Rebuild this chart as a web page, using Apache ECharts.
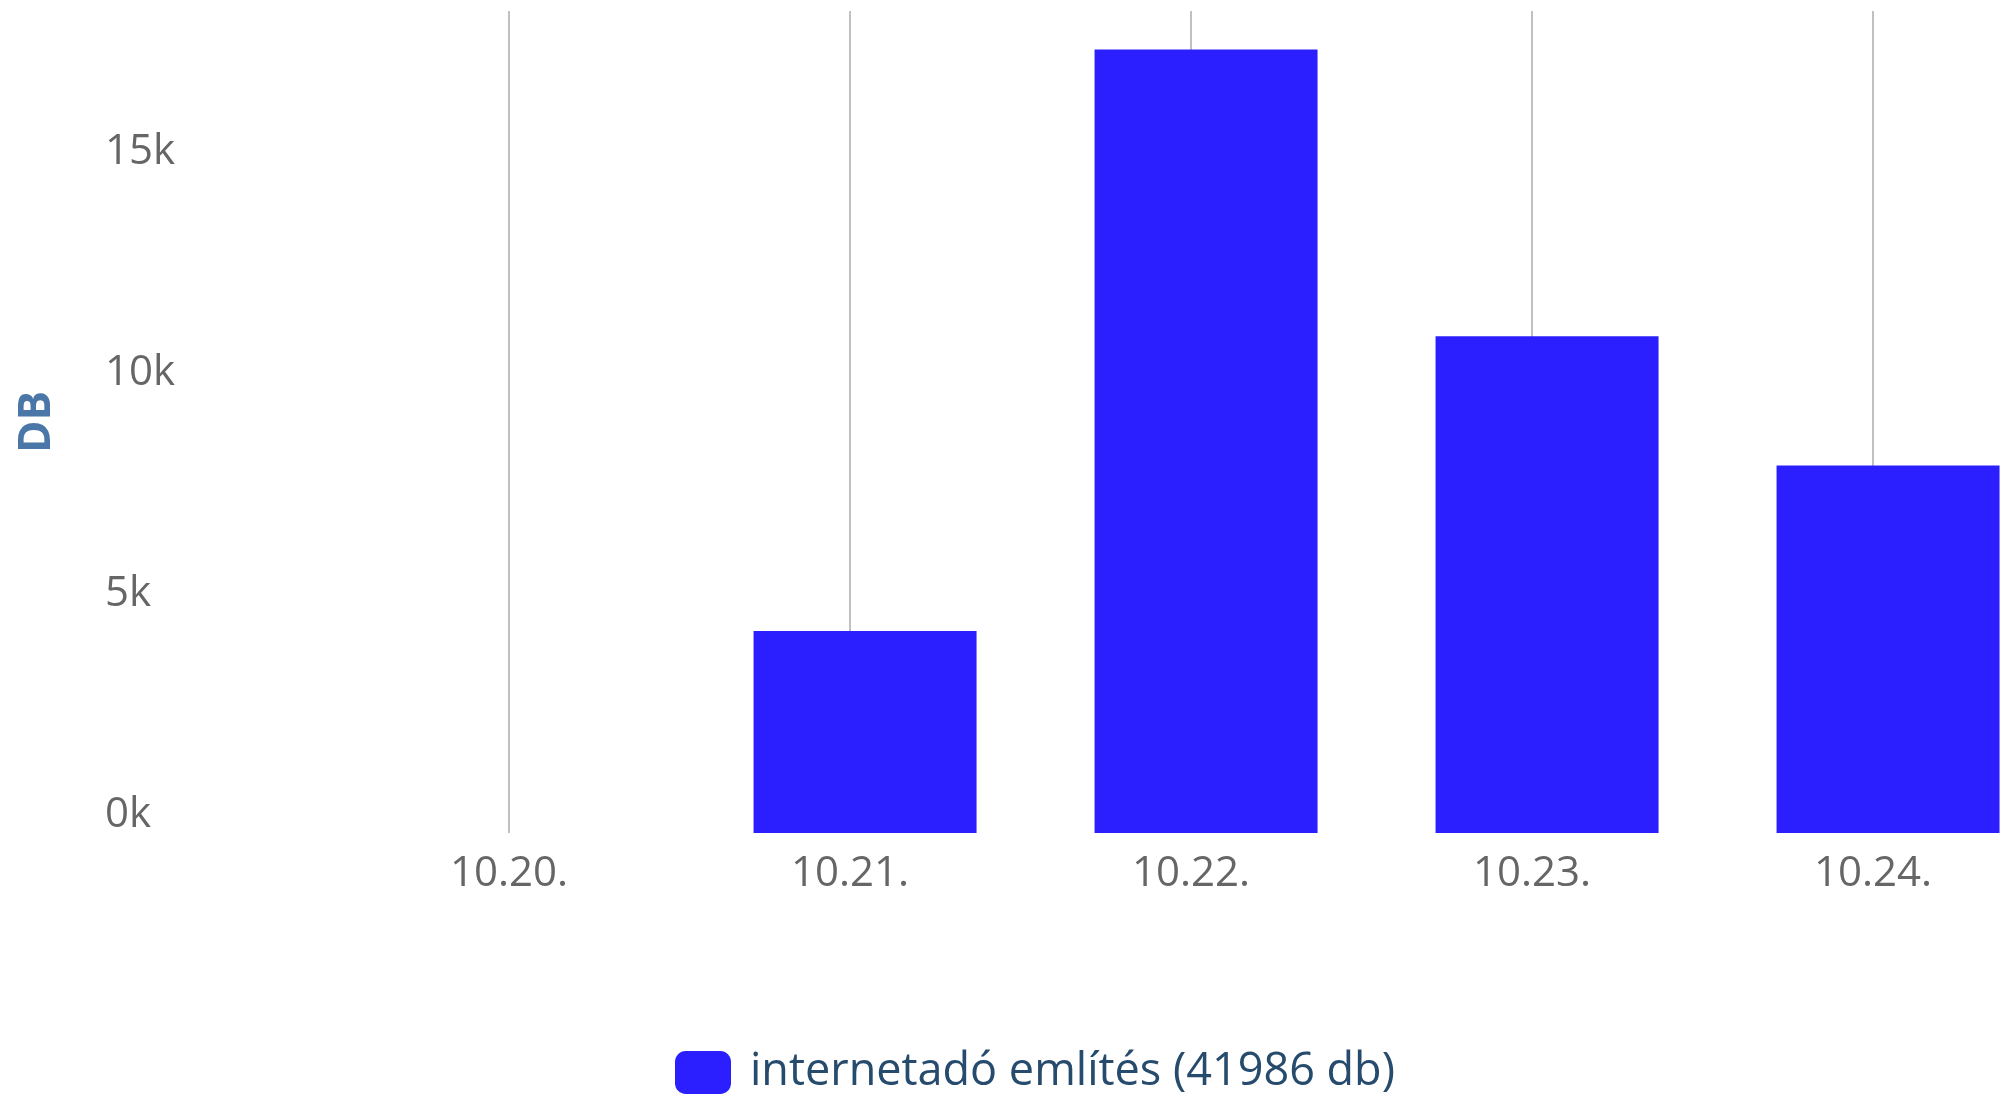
<!DOCTYPE html>
<html>
<head>
<meta charset="utf-8">
<script src="https://cdn.jsdelivr.net/npm/echarts@6/dist/echarts.min.js"></script>
<style>
html,body{margin:0;padding:0;background:#fff;}
#chart{width:2004px;height:1099px;}
</style>
</head>
<body>
<div id="chart"></div>
<script>
var categories = ['10.20.', '10.21.', '10.22.', '10.23.', '10.24.'];
var mentions = [0, 4570, 17730, 11240, 8316];
var seriesName = 'internetadó említés (41986 db)';
var yAxisTitle = 'DB';

var chart = echarts.init(document.getElementById('chart'));
var FONT = '"Open Sans", "Liberation Sans", sans-serif';
chart.setOption({
  animation: false,
  backgroundColor: '#ffffff',
  grid: { left: 509, right: 131, top: 11, bottom: 266, outerBoundsMode: 'none' },
  legend: {
    data: [seriesName],
    left: 675,
    top: 1050,
    padding: 0,
    itemWidth: 56,
    itemHeight: 43,
    icon: 'roundRect',
    textStyle: { fontFamily: FONT, fontSize: 45, color: '#274b6d', padding: [0, 0, 0, 14] }
  },
  xAxis: {
    type: 'category',
    data: categories,
    boundaryGap: false,
    axisLine: { show: false },
    axisTick: { show: false },
    axisLabel: { fontFamily: FONT, fontSize: 42, color: '#666666', margin: 20 },
    splitLine: { show: true, lineStyle: { color: '#c0c0c0', width: 2 } }
  },
  yAxis: {
    type: 'value',
    min: 0,
    max: 18600,
    interval: 5000,
    name: yAxisTitle,
    nameLocation: 'middle',
    nameGap: 450,
    nameTextStyle: { fontFamily: FONT, fontSize: 44, fontWeight: 'bold', color: '#4a76a8' },
    axisLine: { show: false },
    axisTick: { show: false },
    splitLine: { show: false },
    axisLabel: {
      fontFamily: FONT, fontSize: 42, color: '#666666',
      align: 'left', margin: 404, verticalAlign: 'bottom', lineHeight: 36,
      showMaxLabel: true,
      formatter: function (v) { return v % 5000 === 0 ? (v / 1000) + 'k' : ''; }
    }
  },
  series: [
    {
      name: ' ',
      type: 'bar',
      data: [null, null, null, null, null],
      barWidth: 223,
      barGap: '-86.5%',
      clip: false,
      silent: true
    },
    {
      name: seriesName,
      type: 'bar',
      data: mentions,
      barWidth: 223,
      barGap: '-86.5%',
      clip: false,
      itemStyle: { color: '#2c1fff' }
    }
  ]
});
</script>
</body>
</html>
